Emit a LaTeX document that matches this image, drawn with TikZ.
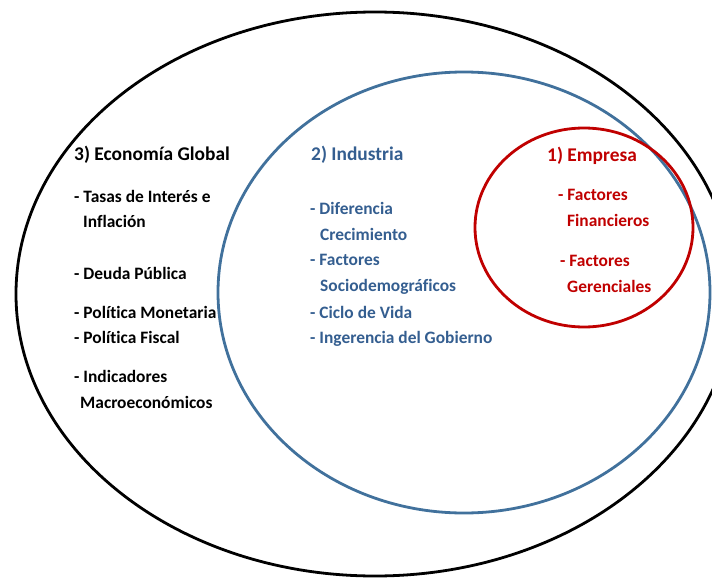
\documentclass[tikz,border=0pt]{standalone}
\usepackage{fontspec}
\setmainfont[Ligatures=NoCommon]{Carlito}
\usetikzlibrary{shapes}
\definecolor{eco_black}{RGB}{0, 0, 0}
\definecolor{ind_blue}{RGB}{65, 113, 156}
\definecolor{ind_text}{RGB}{52, 94, 144}
\definecolor{emp_red}{RGB}{192, 0, 0}
\tikzstyle{ring}=[ellipse,draw,line width=2.8pt,inner sep=0pt]
\tikzstyle{tt}=[anchor=west,inner sep=0pt,text height=1em,text depth=0pt,
  font=\bfseries\fontsize{19.4}{22}\selectfont]
\tikzstyle{it}=[anchor=west,inner sep=0pt,text height=1em,text depth=0pt,
  font=\bfseries\fontsize{17.4}{20}\selectfont]

\begin{document}
\begin{tikzpicture}[x=1pt,y=-1pt]
    \useasboundingbox (0,0) rectangle (712,578);
    \clip (0,0) rectangle (712,578);
    \node [style=ring,draw=eco_black,minimum width=718pt,minimum height=564pt] (global) at (375,294) {};
    \node [style=ring,draw=ind_blue,minimum width=492pt,minimum height=441pt] (industria) at (464,292.5) {};
    \node [style=ring,draw=emp_red,minimum width=218pt,minimum height=199pt] (empresa) at (584,227.5) {};
    % economia global
    \node [style=tt,text=eco_black] (glob_t) at (74,155) {3) Economía Global};
    \node [style=it,text=eco_black] (tasas) at (74,197) {- Tasas de Interés e};
    \node [style=it,text=eco_black] (inflacion) at (83,222) {Inflación};
    \node [style=it,text=eco_black] (deuda) at (74,274) {- Deuda Pública};
    \node [style=it,text=eco_black] (monetaria) at (74,313) {- Política Monetaria};
    \node [style=it,text=eco_black] (fiscal) at (74,338) {- Política Fiscal};
    \node [style=it,text=eco_black] (indic) at (74,377) {- Indicadores};
    \node [style=it,text=eco_black] (macro) at (80,403) {Macroeconómicos};
    % industria
    \node [style=tt,text=ind_text] (ind_t) at (311,155) {2) Industria};
    \node [style=it,text=ind_text] (difer) at (310,209) {- Diferencia};
    \node [style=it,text=ind_text] (crec) at (320,235) {Crecimiento};
    \node [style=it,text=ind_text] (fact) at (310,260) {- Factores};
    \node [style=it,text=ind_text] (socio) at (320,286) {Sociodemográficos};
    \node [style=it,text=ind_text] (ciclo) at (310,313) {- Ciclo de Vida};
    \node [style=it,text=ind_text] (ingerencia) at (310,338) {- Ingerencia del Gobierno};
    % empresa
    \node [style=tt,text=emp_red] (emp_t) at (547,156) {1) Empresa};
    \node [style=it,text=emp_red] (fact_a) at (558,195) {- Factores};
    \node [style=it,text=emp_red] (financ) at (567,221) {Financieros};
    \node [style=it,text=emp_red] (fact_b) at (560,261) {- Factores};
    \node [style=it,text=emp_red] (geren) at (567,287) {Gerenciales};
  \end{tikzpicture}
\end{document}
